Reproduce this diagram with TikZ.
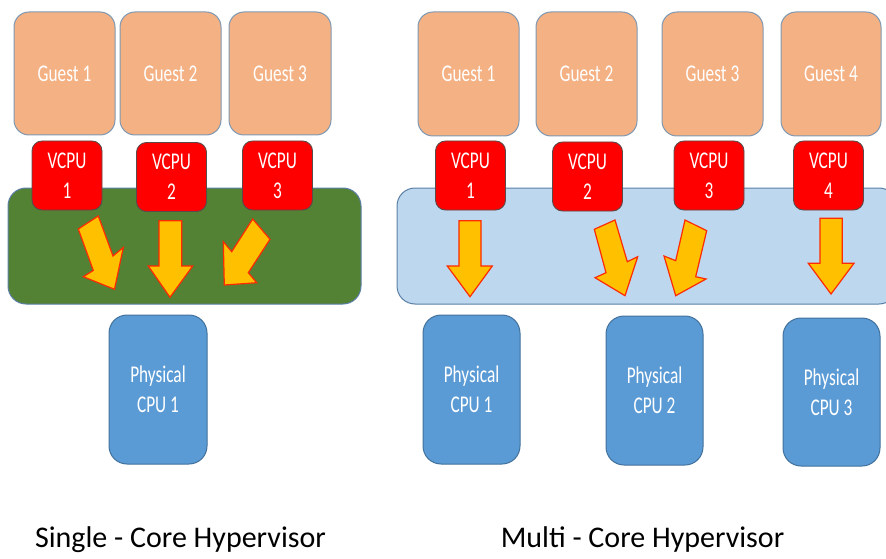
\documentclass[tikz,border=0pt]{standalone}
\usepackage{fontspec}
\setmainfont{Carlito}
\newfontfamily\boxfont{Carlito}[FakeStretch=0.72]
\definecolor{guestfill}{HTML}{F4B183}
\definecolor{guestline}{HTML}{7F98B2}
\definecolor{vcpufill}{HTML}{FF0000}
\definecolor{vcpuline}{HTML}{5A4A4A}
\definecolor{greenpanel}{HTML}{548235}
\definecolor{bluepanel}{HTML}{BDD7EE}
\definecolor{panelline}{HTML}{5B7FA6}
\definecolor{cpufill}{HTML}{5B9BD5}
\definecolor{cpuline}{HTML}{41719C}
\definecolor{arrowfill}{HTML}{FFC000}
\definecolor{arrowline}{HTML}{FF2A00}
\tikzset{
  boxtext/.style={text=white, font=\boxfont\fontsize{24}{30}\selectfont, align=center, inner sep=0pt, outer sep=0pt},
  guest/.style={boxtext, rectangle, rounded corners=15pt, fill=guestfill, draw=guestline, line width=1pt},
  vcpu/.style={boxtext, rectangle, rounded corners=10pt, fill=vcpufill, draw=vcpuline, line width=0.9pt, minimum width=70pt, minimum height=69pt},
  pcpu/.style={boxtext, rectangle, rounded corners=18pt, fill=cpufill, draw=cpuline, line width=1pt, minimum width=97pt, minimum height=149pt},
  panel/.style={rectangle, rounded corners=18pt, draw=panelline, line width=1pt, inner sep=0pt, outer sep=0pt},
  blockarrow/.style={fill=arrowfill, draw=arrowline, line width=1.2pt, line join=miter},
  title/.style={font=\fontsize{30}{36}\selectfont, text=black, inner sep=0pt, anchor=base}
}
\begin{document}
\begin{tikzpicture}[x=1pt, y=-1pt]
\useasboundingbox (0,0) rectangle (886,559);

% ---------- single-core hypervisor ----------
\node[panel, fill=greenpanel, minimum width=353pt, minimum height=116pt] (lpanel) at (184.5,246) {};
\node[guest, minimum width=101pt, minimum height=123pt] (lg1) at (64.5,73.5) {Guest 1};
\node[guest, minimum width=101pt, minimum height=123pt] (lg2) at (170.5,73.5) {Guest 2};
\node[guest, minimum width=102pt, minimum height=123pt] (lg3) at (280,73.5) {Guest 3};
\node[vcpu] (lv1) at (67,175.5) {VCPU\\1};
\node[vcpu] (lv2) at (171.5,177) {VCPU\\2};
\node[vcpu] (lv3) at (277.5,175.5) {VCPU\\3};
\node[pcpu, minimum width=98pt] (lp1) at (158,389.5) {Physical\\CPU 1};

\draw[blockarrow] (78.3,229) -- (98.3,216) -- (113,256) -- (123.3,247.5) -- (114.5,289.3)
  -- (83.3,276.7) -- (93.3,270.5) -- cycle;
\draw[blockarrow] (159,220.7) -- (181.7,220.7) -- (181.7,266) -- (192.7,266) -- (170,297.3)
  -- (148.3,266) -- (159,266) -- cycle;
\draw[blockarrow] (252.7,219) -- (270,239.3) -- (248.3,272.7) -- (256.7,282.7) -- (224.3,285)
  -- (223.3,241.7) -- (231.7,251.7) -- cycle;

\node[title] (ltitle) at (180.5,547) {Single - Core Hypervisor};

% ---------- multi-core hypervisor ----------
\node[panel, fill=bluepanel, minimum width=500pt, minimum height=116pt] (rpanel) at (647,246) {};
\node[guest, minimum width=101pt, minimum height=124pt] (rg1) at (468.5,74) {Guest 1};
\node[guest, minimum width=101pt, minimum height=124pt] (rg2) at (586.5,74) {Guest 2};
\node[guest, minimum width=101pt, minimum height=124pt] (rg3) at (712.5,74) {Guest 3};
\node[guest, minimum width=100pt, minimum height=124pt] (rg4) at (831,74) {Guest 4};
\node[vcpu] (rv1) at (470.5,175.5) {VCPU\\1};
\node[vcpu] (rv2) at (587.5,176.5) {VCPU\\2};
\node[vcpu] (rv3) at (709,175.5) {VCPU\\3};
\node[vcpu] (rv4) at (828.5,175.5) {VCPU\\4};
\node[pcpu] (rp1) at (471.5,389.5) {Physical\\CPU 1};
\node[pcpu] (rp2) at (654.5,390.5) {Physical\\CPU 2};
\node[pcpu, minimum height=148pt] (rp3) at (831.5,392) {Physical\\CPU 3};

\draw[blockarrow] (459,220.7) -- (481,220.7) -- (481,266) -- (492.3,266) -- (470,296.7)
  -- (447.3,266) -- (459,266) -- cycle;
\draw[blockarrow] (594.3,229.3) -- (615,220) -- (627.3,261.7) -- (637.7,256.7) -- (625,295.7)
  -- (595,277.7) -- (606,272.7) -- cycle;
\draw[blockarrow] (685,220) -- (706.7,230.7) -- (695.7,276.7) -- (706,279) -- (675.7,295.7)
  -- (664,256) -- (675.7,260.7) -- cycle;
\draw[blockarrow] (820,218.3) -- (842.3,218.3) -- (842.3,263.3) -- (854,263.3) -- (831,294)
  -- (808.3,263.3) -- (820,263.3) -- cycle;

\node[title] (rtitle) at (642.5,547) {Multi - Core Hypervisor};
\end{tikzpicture}
\end{document}
